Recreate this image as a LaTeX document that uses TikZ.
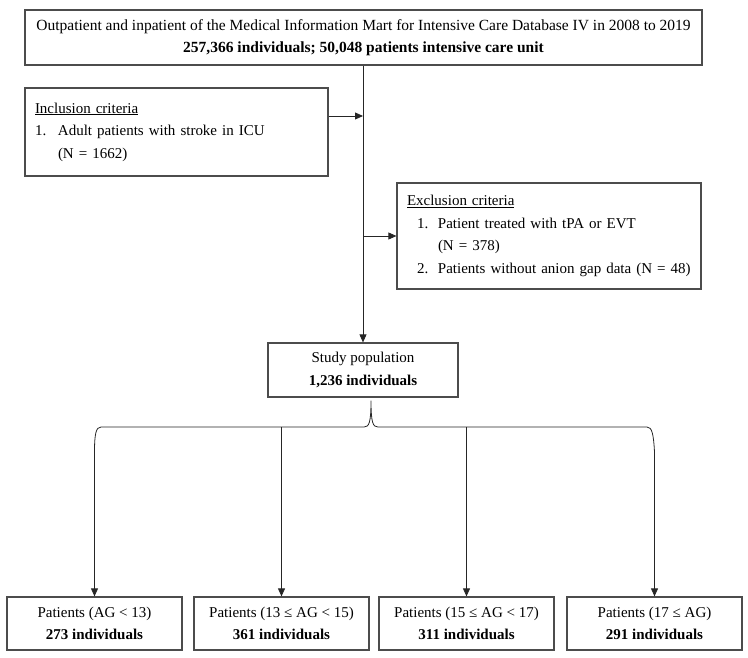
\documentclass[tikz,border=0pt]{standalone}
\usepackage{fontspec}
\setmainfont{Liberation Serif}
\usetikzlibrary{positioning,arrows.meta}

\begin{document}
\begin{tikzpicture}[x=1pt,y=-1pt,
	flowbox/.style={draw=black!70, line width=1.2pt, inner sep=0pt, font=\fontsize{15}{22.5}\selectfont},
	link/.style={black!85, line width=0.8pt},
	arr/.style={link, -{Triangle[length=8pt,width=7pt]}}]
	\pgfmathsetmacro{\BraceY}{427}
	\pgfmathsetmacro{\GroupW}{175}
	\pgfmathsetmacro{\GroupH}{53}
	\pgfmathsetmacro{\GroupY}{623.5}
	\useasboundingbox (0,0) rectangle (748,658);
	% TOP
	\node[flowbox, minimum width=677pt, minimum height=55pt, align=center, font=\fontsize{15.5}{22.5}\selectfont] (mimic) at (363.5,37.5) {Outpatient and inpatient of the Medical Information Mart for Intensive Care Database IV in 2008 to 2019\\\textbf{257,366 individuals; 50,048 patients intensive care unit}};
	% CRITERIA
	\node[flowbox, minimum width=303pt, minimum height=88pt, text width=283pt, align=left] (incl) at (176.5,132) {\underline{Inclusion criteria}\\\makebox[23pt][l]{1.}Adult patients with stroke in ICU\\\hspace*{23pt}(N = 1662)};
	\node[flowbox, minimum width=304pt, minimum height=106pt, text width=284pt, align=left] (excl) at (549,236) {\underline{Exclusion criteria}\\\hspace*{10pt}\makebox[21pt][l]{1.}Patient treated with tPA or EVT\\\hspace*{31pt}(N = 378)\\\hspace*{10pt}\makebox[21pt][l]{2.}Patients without anion gap data (N = 48)};
	% STUDY
	\node[flowbox, minimum width=190pt, minimum height=54pt, align=center] (study) at (363,370) {Study population\\\textbf{1,236 individuals}};
	% GROUPS
	\node[flowbox, minimum width=\GroupW pt, minimum height=\GroupH pt, align=center] (g1) at (94.5,\GroupY) {Patients (AG < 13)\\\textbf{273 individuals}};
	\node[flowbox, minimum width=\GroupW pt, minimum height=\GroupH pt, align=center] (g2) at (281.5,\GroupY) {Patients (13 ≤ AG < 15)\\\textbf{361 individuals}};
	\node[flowbox, minimum width=\GroupW pt, minimum height=\GroupH pt, align=center] (g3) at (466.5,\GroupY) {Patients (15 ≤ AG < 17)\\\textbf{311 individuals}};
	\node[flowbox, minimum width=\GroupW pt, minimum height=\GroupH pt, align=center] (g4) at (654.5,\GroupY) {Patients (17 ≤ AG)\\\textbf{291 individuals}};
	% ARROWS
	\draw[arr] (mimic.south -| study.north) -- (study.north);
	\draw[arr] ([yshift=16pt]incl.east) -- ([yshift=16pt]incl.east -| study.north);
	\draw[arr] (excl.west -| study.north) -- (excl.west);
	% BRACE
	\coordinate (cusp) at ([xshift=8pt,yshift=-3pt]study.south);
	\coordinate (bmid) at (0,\BraceY);
	\coordinate (bl) at (94.5,452);
	\coordinate (br) at (654.5,452);
	\draw[link] (bl) .. controls (94.5,434) and (96,\BraceY) .. (101,\BraceY) -- (364,\BraceY) .. controls (369,\BraceY) and (371,423) .. (cusp) .. controls (371,423) and (373,\BraceY) .. (378,\BraceY) -- (647,\BraceY) .. controls (652,\BraceY) and (653.5,434) .. (br);
	\draw[arr] (bl) -- (g1.north);
	\draw[arr] (g2.north |- bmid) -- (g2.north);
	\draw[arr] (g3.north |- bmid) -- (g3.north);
	\draw[arr] (br) -- (g4.north);
\end{tikzpicture}
\end{document}
